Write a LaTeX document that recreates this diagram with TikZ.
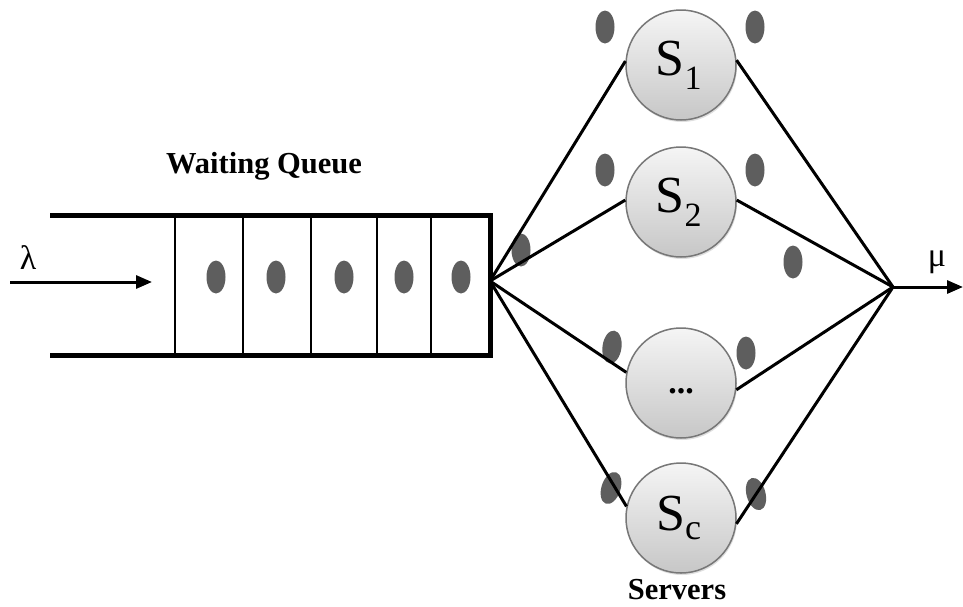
\documentclass[tikz,border=0pt]{standalone}
\usepackage{fontspec}
\setmainfont{Liberation Serif}
\usetikzlibrary{shapes.geometric,arrows.meta,shadows}
\definecolor{dotgray}{HTML}{5E5E5E}
\definecolor{rimgray}{HTML}{777777}
\tikzset{
  wall/.style={line width=5pt},
  divider/.style={line width=2pt},
  link/.style={line width=3pt},
  flow/.style={line width=3pt,-{Triangle[length=16pt,width=13pt]}},
  token/.style={ellipse,fill=dotgray,inner sep=0pt,minimum width=19pt,minimum height=33pt},
  server/.style={circle,draw=rimgray,line width=1.5pt,minimum size=110pt,inner sep=0pt,
    top color=white!96!black,bottom color=black!22,
    drop shadow={shadow xshift=1pt,shadow yshift=-2pt,opacity=0.25}},
  caption/.style={font=\fontsize{30.5}{32}\selectfont\bfseries},
  rate/.style={font=\fontsize{34}{36}\selectfont},
  slabel/.style={font=\fontsize{52}{54}\selectfont}
}
\begin{document}
\begin{tikzpicture}[x=1pt,y=-1pt]
\useasboundingbox (0,0) rectangle (963,606);
\fill[white] (0,0) rectangle (963,606);

% tokens waiting in the queue
\foreach \x [count=\i] in {216,276,344,404,461}
  \node[token] (q\i) at (\x,277) {};

% tokens moving around the servers
\node[token] (a1) at (605,27) {};
\node[token] (a2) at (755,27) {};
\node[token] (b1) at (605,170) {};
\node[token] (b2) at (755,170) {};
\node[token] (c1) at (521,250) {};
\node[token] (c2) at (793,262) {};
\node[token,rotate=-8] (d1) at (612,347) {};
\node[token] (d2) at (746,353) {};
\node[token,rotate=-18] (e1) at (611,488) {};
\node[token,rotate=15] (e2) at (756,494) {};

% queue
\draw[wall] (50,215) -- (490,215) -- (490,355) -- (50,355);
\foreach \x in {175,243,311,377,431}
  \draw[divider] (\x,215) -- (\x,355);
\node[caption] (wq) at (264,166) {Waiting Queue};

% arrival
\coordinate (in) at (10,282);
\coordinate (qin) at (152,282);
\draw[flow] (in) -- (qin);
\node[rate] (lam) at (28,258) {λ};

% servers
\node[server] (s1) at (681,65) {};
\node[server] (s2) at (681,202) {};
\node[server] (s3) at (681,383) {};
\node[server] (sc) at (681,518) {};
\node[slabel] at ([xshift=-2pt]s1) {S\textsubscript{\fontsize{34}{34}\selectfont 1}};
\node[slabel] at ([xshift=-2pt]s2) {S\textsubscript{\fontsize{34}{34}\selectfont 2}};
\node[font=\fontsize{34}{34}\selectfont\bfseries] at ([yshift=-8pt]s3) {...};
\node[slabel] at ([xshift=-2pt]sc) {S\textsubscript{\fontsize{36}{36}\selectfont c}};
\node[caption] (srv) at (677,590) {Servers};

% routing
\coordinate (split) at (490,281);
\coordinate (join) at (893,287);
\draw[link] (split) -- (s1.176);
\draw[link] (split) -- (s2.178);
\draw[link] (split) -- (s3.169);
\draw[link] (split) -- (sc.168);
\draw[link] (s1.5) -- (join);
\draw[link] (s2.2) -- (join);
\draw[link] (s3.-7) -- (join);
\draw[link] (sc.-6) -- (join);

% departure
\coordinate (out) at (963,287);
\draw[flow] (join) -- (out);
\node[rate] (mu) at (937,262) {μ};
\end{tikzpicture}
\end{document}
